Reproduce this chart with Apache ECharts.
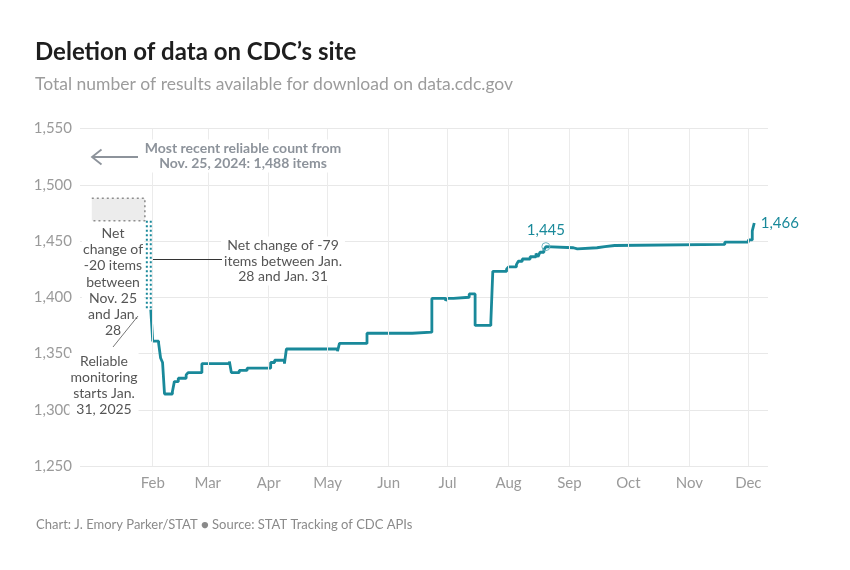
<!DOCTYPE html>
<html>
<head>
<meta charset="utf-8">
<title>Deletion of data on CDC's site</title>
<script src="https://cdn.jsdelivr.net/npm/echarts@6.0.0/dist/echarts.min.js"></script>
<style>
  html, body { margin: 0; padding: 0; background: #fff; }
  #chart { width: 850px; height: 570px; }
</style>
</head>
<body>
<div id="chart"></div>
<script>
// data
const countDates = [
  '2025-01-31', '2025-02-01', '2025-02-04', '2025-02-05', '2025-02-06', '2025-02-07',
  '2025-02-11', '2025-02-12', '2025-02-14', '2025-02-18', '2025-02-19', '2025-02-26',
  '2025-03-12', '2025-03-13', '2025-03-17', '2025-03-21', '2025-04-02', '2025-04-04',
  '2025-04-09', '2025-04-10', '2025-05-06', '2025-05-07', '2025-05-21', '2025-06-13',
  '2025-06-23', '2025-06-30', '2025-07-01', '2025-07-04', '2025-07-12', '2025-07-15',
  '2025-07-23', '2025-07-24', '2025-07-31', '2025-08-01', '2025-08-05', '2025-08-06',
  '2025-08-08', '2025-08-12', '2025-08-15', '2025-08-16', '2025-08-17', '2025-08-19',
  '2025-08-20', '2025-08-21', '2025-09-03', '2025-09-05', '2025-09-15', '2025-09-19',
  '2025-09-24', '2025-11-19', '2025-12-01', '2025-12-03', '2025-12-04'
];
const counts = [
  1389, 1361, 1359, 1346, 1342, 1314,
  1316, 1325, 1328, 1331, 1333, 1341,
  1343, 1333, 1335, 1337, 1342, 1344,
  1341, 1354, 1352, 1359, 1368, 1369,
  1399, 1397, 1399, 1400, 1403, 1375,
  1378, 1423, 1425, 1427, 1429, 1432,
  1434, 1436, 1439, 1436, 1440, 1442,
  1445, 1444, 1443, 1444, 1445, 1446,
  1447, 1449, 1451, 1459, 1466
];

// the gap before reliable monitoring
const gapDates = ['2025-01-01', '2025-01-28'];
const gapValues = [1488, 1468];
const dropDates = ['2025-01-29', '2025-01-31'];
const dropValues = [1468, 1389];

const highlightDate = '2025-08-20';
const highlightValue = 1445;
const lastDate = '2025-12-04';
const lastValue = 1466;

const monthStarts = ['2025-02-01', '2025-03-01', '2025-04-01', '2025-05-01', '2025-06-01',
  '2025-07-01', '2025-08-01', '2025-09-01', '2025-10-01', '2025-11-01', '2025-12-01'];
const monthLabels = ['Feb', 'Mar', 'Apr', 'May', 'Jun', 'Jul', 'Aug', 'Sep', 'Oct', 'Nov', 'Dec'];
const xRange = ['2024-12-26', '2025-12-11'];
const yMin = 1250, yMax = 1550, yStep = 50;

const TEAL = '#19899a';
const FONT = 'Lato, "Noto Sans", sans-serif';

// days since 1 Jan 2025 (x axis is a plain day count)
const EPOCH = Date.UTC(2025, 0, 1);
function day(s) {
  const [y, m, d] = s.split('-').map(Number);
  return Math.round((Date.UTC(y, m - 1, d) - EPOCH) / 86400000);
}
const fmt = v => v.toLocaleString('en-US');

const lineData = countDates.map((d, i) => [day(d), counts[i]]);
const ticks = monthStarts.map(day);
const tickLabel = {};
ticks.forEach((t, i) => { tickLabel[t] = monthLabels[i]; });

const chart = echarts.init(document.getElementById('chart'));

chart.setOption({
  backgroundColor: '#fff',
  animation: false,
  textStyle: { fontFamily: FONT },
  title: [
    {
      text: 'Deletion of data on CDC\u2019s site',
      left: 35, top: 40, padding: 0,
      textStyle: { fontSize: 24, fontWeight: 'bold', color: '#1e1e1e', fontFamily: FONT }
    },
    {
      text: 'Total number of results available for download on data.cdc.gov',
      left: 35, top: 75, padding: 0,
      textStyle: { fontSize: 17.5, fontWeight: 'normal', color: '#9c9c9c', fontFamily: FONT }
    },
    {
      text: 'Chart: J. Emory Parker/STAT \u25CF Source: STAT Tracking of CDC APIs',
      left: 36, top: 518, padding: 0,
      textStyle: { fontSize: 13, fontWeight: 'normal', color: '#8a8a8a', fontFamily: FONT }
    }
  ],
  grid: { left: 80, right: 82, top: 128.5, bottom: 104, containLabel: false },
  xAxis: {
    type: 'value',
    min: day(xRange[0]),
    max: day(xRange[1]),
    axisLine: { show: false },
    axisTick: { show: false },
    splitLine: { show: false },
    axisLabel: {
      customValues: ticks,
      formatter: v => tickLabel[v] || '',
      color: '#9a9a9a', fontSize: 15, margin: 10, fontFamily: FONT
    }
  },
  yAxis: {
    type: 'value',
    min: yMin, max: yMax, interval: yStep,
    axisLine: { show: false },
    axisTick: { show: false },
    splitLine: { lineStyle: { color: '#e8e8e8', width: 1 } },
    axisLabel: {
      formatter: fmt,
      color: '#9a9a9a', fontSize: 15, margin: 8, fontFamily: FONT
    }
  },
  series: [
    {
      // month gridlines and the grey box for the unreliable period
      type: 'line',
      z: 1,
      silent: true,
      symbol: 'none',
      data: [
        [day(gapDates[0]), gapValues[0]],
        [day(gapDates[1]), gapValues[0]],
        [day(gapDates[1]), gapValues[1]],
        [day(gapDates[0]), gapValues[1]]
      ],
      lineStyle: { color: '#8e8e8e', width: 1.6, type: [2, 3] },
      markArea: {
        silent: true,
        itemStyle: { color: '#ececec' },
        data: [[
          { xAxis: day(gapDates[0]), yAxis: gapValues[1] },
          { xAxis: day(gapDates[1]), yAxis: gapValues[0] }
        ]]
      },
      markLine: {
        silent: true,
        symbol: 'none',
        label: { show: false },
        lineStyle: { color: '#ebebeb', width: 1, type: 'solid' },
        data: ticks.map(t => ({ xAxis: t }))
      }
    },
    {
      type: 'line',
      z: 2,
      silent: true,
      symbol: 'none',
      data: [[day(dropDates[0]), dropValues[0]], [day(dropDates[0]), dropValues[1]]],
      lineStyle: { color: TEAL, width: 2, type: [2, 2.5] }
    },
    {
      type: 'line',
      z: 2,
      silent: true,
      symbol: 'none',
      data: [[day(dropDates[1]), dropValues[0]], [day(dropDates[1]), dropValues[1]]],
      lineStyle: { color: TEAL, width: 2, type: [2, 2.5] }
    },
    {
      name: 'Results',
      type: 'line',
      z: 3,
      step: 'end',
      symbol: 'none',
      data: lineData,
      lineStyle: { color: TEAL, width: 2.8 },
      markPoint: {
        silent: true,
        data: [
          {
            coord: [day(highlightDate), highlightValue],
            symbol: 'circle', symbolSize: 8,
            itemStyle: { color: 'rgba(255,255,255,0)', borderColor: '#6fb6c1', borderWidth: 1 },
            label: {
              show: true, position: 'top', distance: 4,
              formatter: fmt(highlightValue),
              color: TEAL, fontSize: 15, fontFamily: FONT
            }
          },
          {
            coord: [day(lastDate), lastValue],
            symbol: 'circle', symbolSize: 1,
            itemStyle: { color: 'rgba(255,255,255,0)' },
            label: {
              show: true, position: 'right', distance: 6,
              formatter: fmt(lastValue),
              color: TEAL, fontSize: 15, fontFamily: FONT
            }
          }
        ]
      }
    }
  ],
  graphic: [
    {
      type: 'text', x: 243, y: 156, z: 10,
      style: {
        text: 'Most recent reliable count from\nNov. 25, 2024: 1,488 items',
        align: 'center', verticalAlign: 'middle', lineHeight: 15.5,
        font: 'bold 14px ' + FONT, fill: '#8d939b',
        backgroundColor: '#fff', padding: [1, 3]
      }
    },
    {
      type: 'line', z: 11,
      shape: { x1: 138, y1: 157, x2: 92, y2: 157 },
      style: { stroke: '#8d939b', lineWidth: 1.8 }
    },
    {
      type: 'polyline', z: 11,
      shape: { points: [[101.5, 149.5], [92, 157], [101.5, 164.5]] },
      style: { stroke: '#8d939b', lineWidth: 1.8, fill: null }
    },
    {
      type: 'text', x: 113, y: 282, z: 10,
      style: {
        text: 'Net\nchange of\n-20 items\nbetween\nNov. 25\nand Jan.\n28',
        align: 'center', verticalAlign: 'middle', lineHeight: 16.3,
        font: '14px ' + FONT, fill: '#555',
        backgroundColor: '#fff', padding: [0, 1]
      }
    },
    {
      type: 'text', x: 283, y: 261, z: 10,
      style: {
        text: 'Net change of -79\nitems between Jan.\n28 and Jan. 31',
        align: 'center', verticalAlign: 'middle', lineHeight: 15.7,
        font: '14px ' + FONT, fill: '#555',
        backgroundColor: '#fff', padding: [1, 3]
      }
    },
    {
      type: 'line', z: 11,
      shape: { x1: 153, y1: 259.5, x2: 222, y2: 259.5 },
      style: { stroke: '#333', lineWidth: 1 }
    },
    {
      type: 'text', x: 104, y: 385, z: 10,
      style: {
        text: 'Reliable\nmonitoring\nstarts Jan.\n31, 2025',
        align: 'center', verticalAlign: 'middle', lineHeight: 16,
        font: '14px ' + FONT, fill: '#555',
        backgroundColor: '#fff', padding: [0, 1]
      }
    },
    {
      type: 'line', z: 11,
      shape: { x1: 138, y1: 316, x2: 113, y2: 347 },
      style: { stroke: '#777', lineWidth: 1 }
    }
  ]
});

window.addEventListener('resize', () => chart.resize());
</script>
</body>
</html>
